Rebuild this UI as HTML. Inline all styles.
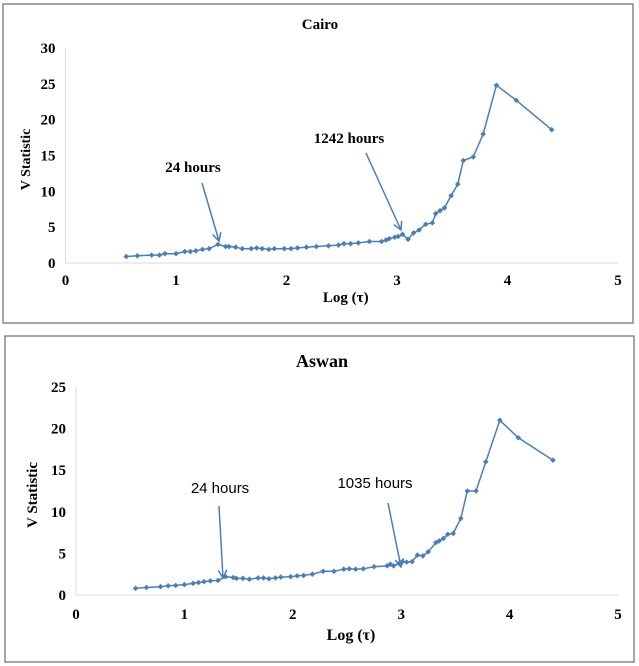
<!DOCTYPE html>
<html><head><meta charset="utf-8"><style>
body{margin:0;background:#fff;width:639px;height:666px;overflow:hidden}
svg{display:block}
text{font-family:"Liberation Serif",serif;font-weight:bold;fill:#000}
</style></head><body>
<svg id="s" width="639" height="666"></svg>
<script>
const cairoX=[0.55,0.65,0.78,0.85,0.9,1.0,1.08,1.13,1.18,1.24,1.3,1.38,1.45,1.48,1.54,1.6,1.68,1.73,1.78,1.84,1.89,1.98,2.04,2.1,2.18,2.27,2.38,2.47,2.52,2.58,2.65,2.75,2.86,2.9,2.93,2.98,3.01,3.05,3.1,3.15,3.2,3.26,3.32,3.35,3.39,3.43,3.49,3.55,3.6,3.69,3.78,3.9,4.08,4.4];
const cairoY=[0.9,1.0,1.1,1.1,1.3,1.3,1.6,1.6,1.7,1.9,2.0,2.6,2.3,2.3,2.2,2.0,2.0,2.1,2.0,1.9,2.0,2.0,2.0,2.1,2.2,2.3,2.4,2.5,2.7,2.7,2.8,3.0,3.0,3.2,3.4,3.6,3.7,4.0,3.3,4.2,4.6,5.4,5.6,6.9,7.3,7.7,9.4,11,14.3,14.8,18,24.8,22.7,18.6];
const aswanX=[0.55,0.65,0.78,0.85,0.92,1.0,1.08,1.13,1.18,1.24,1.31,1.38,1.45,1.48,1.54,1.6,1.68,1.73,1.78,1.84,1.89,1.98,2.04,2.1,2.18,2.28,2.38,2.47,2.52,2.58,2.65,2.75,2.87,2.9,2.93,2.98,3.01,3.05,3.1,3.15,3.2,3.25,3.32,3.35,3.39,3.43,3.48,3.55,3.61,3.69,3.78,3.91,4.08,4.4];
const aswanY=[0.8,0.9,1.0,1.1,1.15,1.25,1.4,1.5,1.6,1.7,1.75,2.2,2.1,2.0,2.0,1.9,2.05,2.05,1.95,2.05,2.15,2.2,2.3,2.35,2.5,2.85,2.85,3.1,3.15,3.1,3.15,3.4,3.5,3.7,3.5,3.8,4.0,3.95,4.0,4.8,4.7,5.2,6.3,6.5,6.8,7.3,7.4,9.2,12.5,12.5,16,21,18.9,16.2];
const xTicks=[0,1,2,3,4,5];
const cairoYTicks=[0,5,10,15,20,25,30];
const aswanYTicks=[0,5,10,15,20,25];
const NS="http://www.w3.org/2000/svg";
const svg=document.getElementById('s');
function mk(t,a,p){const e=document.createElementNS(NS,t);for(const k in a)e.setAttribute(k,a[k]);(p||svg).appendChild(e);return e;}
function chart(o){
  const g=mk('g',{});
  
  
  const fr=mk('rect',{x:o.box[0],y:o.box[1],width:o.box[2],height:o.box[3],fill:'none',stroke:'#888','stroke-width':1.5},g);
  
  
  const sx=v=>o.x0+(o.x1-o.x0)*v/5;
  const sy=v=>o.y0-(o.y0-o.yT)*v/o.ymax;
  const ti=mk('text',{x:o.tx,y:o.ty,'text-anchor':'middle','font-size':o.tfs},g);ti.textContent=o.title;
  
  
  const ax=mk('path',{d:`M${o.x0},${o.yT} V${o.y0} H${o.x1}`,fill:'none',stroke:'#d9d9d9','stroke-width':1},g);
  
  
  xTicks.forEach(v=>{const t=mk('text',{x:sx(v),y:o.y0+o.xtd,'text-anchor':'middle','font-size':15},g);t.textContent=v;
    
    });
  o.yt.forEach(v=>{const t=mk('text',{x:o.x0-10,y:sy(v)+5,'text-anchor':'end','font-size':15},g);t.textContent=v;
    
    });
  const xl=mk('text',{x:(o.x0+o.x1)/2+4,y:o.y0+o.xld,'text-anchor':'middle','font-size':o.xfs},g);xl.textContent='Log (τ)';
  
  
  const yl=mk('text',{x:0,y:0,'text-anchor':'middle','font-size':o.yfs,transform:`translate(${o.ylx},${(o.y0+o.yT)/2+4}) rotate(-90)`},g);yl.textContent='V Statistic';
  
  
  const pts=o.xs.map((x,i)=>sx(x).toFixed(1)+','+sy(o.ys[i]).toFixed(1)).join(' ');
  const ln=mk('polyline',{points:pts,fill:'none',stroke:'#4a7ebb','stroke-width':1.5},g);
  
  
  o.xs.forEach((x,i)=>{const cx=sx(x),cy=sy(o.ys[i]);
    const m=mk('path',{d:`M${cx},${cy-2.8} L${cx+2.8},${cy} L${cx},${cy+2.8} L${cx-2.8},${cy}Z`,fill:'#4a7ebb'},g);
    
    });
  o.ann.forEach(a=>{
    const t=mk('text',{x:a.tx,y:a.ty,'text-anchor':'middle','font-size':o.afs,style:o.afont},g);t.textContent=a.t;
    
    
    const [x1,y1,x2,y2]=a.l;const ang=Math.atan2(y2-y1,x2-x1);
    const h=9,w=0.5;
    const p=`M${x1},${y1} L${x2},${y2} M${x2-h*Math.cos(ang-w)},${y2-h*Math.sin(ang-w)} L${x2},${y2} L${x2-h*Math.cos(ang+w)},${y2-h*Math.sin(ang+w)}`;
    const ar=mk('path',{d:p,fill:'none',stroke:'#4a7ebb','stroke-width':1.5},g);
    
    
  });
}
chart({name:'cairo',box:[3,4,630,319],x0:65.5,x1:618,y0:263,yT:48,ymax:30,yt:cairoYTicks,xs:cairoX,ys:cairoY,
  title:'Cairo',tx:320,ty:29,tfs:15,ylx:30,yfs:14,xtd:22,xld:39,xfs:15,afs:15,afont:'',
  ann:[{t:'24 hours',tx:193,ty:172,l:[202,183,219,241]},{t:'1242 hours',tx:349,ty:143,l:[366,153,401,230]}]});
chart({name:'aswan',box:[5,336,629,326],x0:76,x1:618,y0:595,yT:387,ymax:25,yt:aswanYTicks,xs:aswanX,ys:aswanY,
  title:'Aswan',tx:322,ty:367,tfs:18,ylx:37,yfs:15,xtd:24,xld:45,xfs:16,afs:15,afont:'font-family:"Liberation Sans",sans-serif;font-weight:normal',
  ann:[{t:'24 hours',tx:220,ty:493,l:[219,506,223,578]},{t:'1035 hours',tx:375,ty:488,l:[388,503,401,567]}]});
</script>
</body></html>
